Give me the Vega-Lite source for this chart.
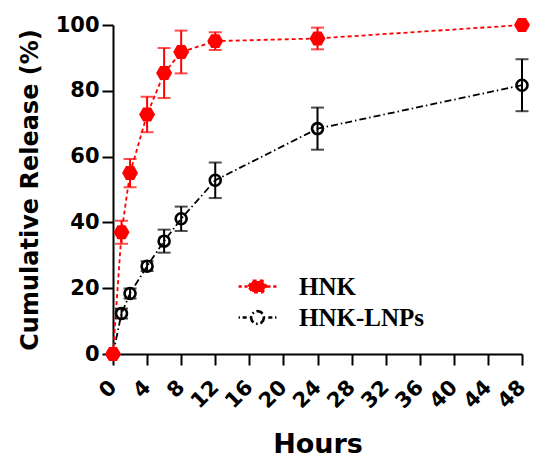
{
  "$schema": "https://vega.github.io/schema/vega-lite/v6.json",
  "width": 409,
  "height": 329,
  "autosize": "none",
  "padding": {"left": 113, "top": 25, "right": 28, "bottom": 114},
  "background": "white",
  "config": {
    "view": {"stroke": null},
    "axis": {
      "domainColor": "black", "domainWidth": 2, "tickColor": "black", "tickWidth": 2, "tickSize": 11,
      "labelFont": "DejaVu Sans", "labelFontWeight": "bold", "labelFontSize": 21, "labelColor": "black",
      "labelFlush": false, "labelOverlap": false,
      "titleFont": "DejaVu Sans", "titleFontWeight": "bold", "titleColor": "black", "grid": false
    }
  },
  "data": {
    "values": [
      {"series": "HNK", "h": 0, "v": 0, "e": 0},
      {"series": "HNK", "h": 1, "v": 37, "e": 3.5},
      {"series": "HNK", "h": 2, "v": 55, "e": 4.3},
      {"series": "HNK", "h": 4, "v": 72.8, "e": 5.4},
      {"series": "HNK", "h": 6, "v": 85.4, "e": 7.6},
      {"series": "HNK", "h": 8, "v": 91.8, "e": 6.5},
      {"series": "HNK", "h": 12, "v": 95.1, "e": 2.7},
      {"series": "HNK", "h": 24, "v": 95.9, "e": 3.3},
      {"series": "HNK", "h": 48, "v": 100, "e": 0.5},
      {"series": "HNK-LNPs", "h": 0, "v": 0, "e": 0},
      {"series": "HNK-LNPs", "h": 1, "v": 12.3, "e": 1.5},
      {"series": "HNK-LNPs", "h": 2, "v": 18.4, "e": 1.5},
      {"series": "HNK-LNPs", "h": 4, "v": 26.7, "e": 1.5},
      {"series": "HNK-LNPs", "h": 6, "v": 34.3, "e": 3.5},
      {"series": "HNK-LNPs", "h": 8, "v": 41.1, "e": 3.7},
      {"series": "HNK-LNPs", "h": 12, "v": 52.8, "e": 5.4},
      {"series": "HNK-LNPs", "h": 24, "v": 68.5, "e": 6.4},
      {"series": "HNK-LNPs", "h": 48, "v": 81.7, "e": 7.9}
    ]
  },
  "encoding": {
    "x": {
      "field": "h", "type": "quantitative",
      "scale": {"domain": [0, 48], "nice": false},
      "axis": {
        "title": "Hours", "titleFontSize": 27, "titlePadding": 20,
        "values": [0, 4, 8, 12, 16, 20, 24, 28, 32, 36, 40, 44, 48],
        "labelAngle": -45, "labelAlign": "right", "labelBaseline": "middle", "labelPadding": 19
      }
    },
    "y": {
      "field": "v", "type": "quantitative",
      "scale": {"domain": [0, 100], "nice": false},
      "axis": {
        "title": "Cumulative Release (%)", "titleFontSize": 24, "titlePadding": 13,
        "values": [0, 20, 40, 60, 80, 100], "labelPadding": 3
      }
    },
    "color": {
      "field": "series", "type": "nominal",
      "scale": {"domain": ["HNK", "HNK-LNPs"], "range": ["#ff0000", "#000000"]},
      "legend": {
        "title": null, "orient": "none", "legendX": 132, "legendY": 249, "padding": 0,
        "symbolSize": 324, "labelOffset": 29, "rowPadding": 5,
        "labelFont": "Liberation Serif", "labelFontWeight": "bold", "labelFontSize": 25,
        "labelColor": "black", "labelLimit": 300,
        "encode": {
          "symbols": {
            "update": {
              "shape": {"signal": "datum.value === 'HNK' ? 'M-2.1,0H-1.75M-1.45,0H-1.1M1.1,0H1.45M1.75,0H2.1M-1,0L-0.55,-0.62L0.55,-0.62L1,0L0.55,0.62L-0.55,0.62Z' : 'M-2.1,0H-1.95M-1.65,0H-1.2M1.2,0H1.65M1.95,0H2.1M0.72,0L0.62,0.36L0.36,0.62L0,0.72L-0.36,0.62L-0.62,0.36L-0.72,0L-0.62,-0.36L-0.36,-0.62L0,-0.72L0.36,-0.62L0.62,-0.36Z'"},
              "fill": {"signal": "datum.value === 'HNK' ? '#ff0000' : '#ffffff'"},
              "fillOpacity": {"signal": "datum.value === 'HNK' ? 1 : 0"},
              "stroke": {"signal": "datum.value === 'HNK' ? '#ff0000' : '#000000'"},
              "strokeOpacity": {"value": 1},
              "strokeWidth": {"value": 2.6},
              "strokeDash": {"value": []},
              "opacity": {"value": 1}
            }
          }
        }
      }
    }
  },
  "layer": [
    {
      "mark": {"type": "line", "strokeWidth": 1.8, "clip": false},
      "encoding": {
        "strokeDash": {
          "field": "series", "type": "nominal",
          "scale": {"domain": ["HNK", "HNK-LNPs"], "range": [[4, 3], [7, 3, 1.5, 3]]},
          "legend": null
        }
      }
    },
    {
      "mark": {"type": "errorbar", "ticks": {"size": 13, "thickness": 2}, "rule": {"strokeWidth": 2}},
      "encoding": {
        "yError": {"field": "e"}
      }
    },
    {
      "transform": [{"filter": "datum.series === 'HNK-LNPs'"}],
      "mark": {"type": "point", "shape": "circle", "size": 120, "strokeWidth": 2.6, "filled": false, "opacity": 1, "clip": false}
    },
    {
      "transform": [{"filter": "datum.series === 'HNK'"}],
      "mark": {"type": "point", "shape": "M-1,0L-0.5,-0.866L0.5,-0.866L1,0L0.5,0.866L-0.5,0.866Z", "size": 256, "filled": true, "opacity": 1, "clip": false}
    }
  ]
}
